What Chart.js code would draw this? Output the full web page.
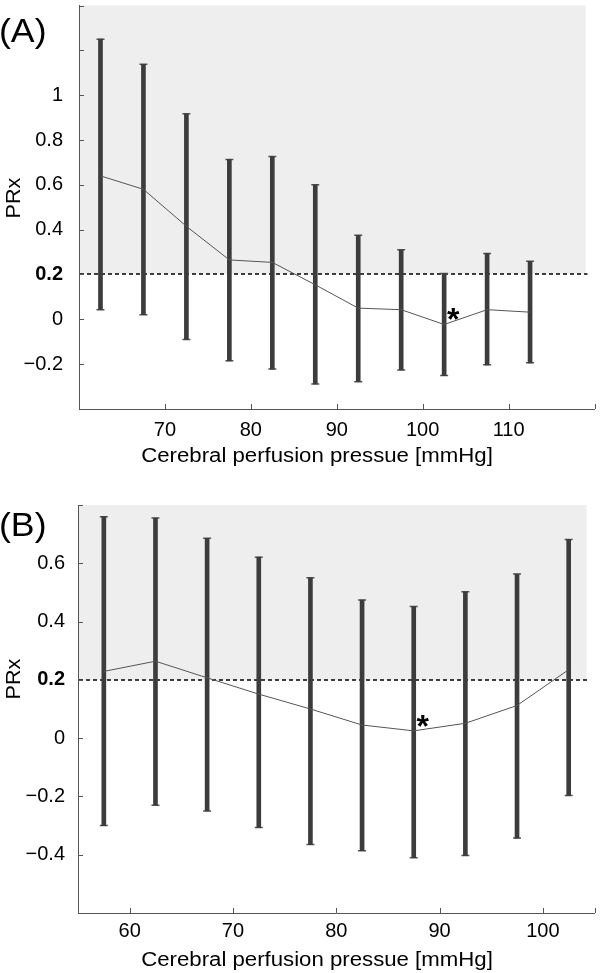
<!DOCTYPE html>
<html><head><meta charset="utf-8">
<script src="https://cdn.jsdelivr.net/npm/chart.js@4/dist/chart.umd.min.js"></script>
<style>
html,body{margin:0;padding:0;background:#fff;width:600px;height:973px;overflow:hidden}
canvas{position:absolute;left:0}
#ca{top:0}#cb{top:486px}
</style></head>
<body>
<canvas id="ca" width="600" height="486"></canvas>
<canvas id="cb" width="600" height="487"></canvas>
<script>
const xTitle = 'Cerebral perfusion pressue [mmHg]';
const yTitle = 'PRx';
const threshold = 0.2;

// Panel A
const cppA   = [62.5, 67.5, 72.5, 77.5, 82.5, 87.5, 92.5, 97.5, 102.5, 107.5, 112.5];
const meanA  = [0.64, 0.58, 0.415, 0.265, 0.254, 0.154, 0.05, 0.043, -0.023, 0.043, 0.032];
const upperA = [1.25, 1.138, 0.917, 0.713, 0.726, 0.60, 0.375, 0.31, 0.204, 0.294, 0.259];
const lowerA = [0.043, 0.021, -0.09, -0.185, -0.222, -0.288, -0.278, -0.226, -0.251, -0.203, -0.194];
const starA  = 102.5;
const xTicksA  = [60, 70, 80, 90, 100, 110, 120];
const xLabelsA = [70, 80, 90, 100, 110];
const yTicksA  = [-0.4, -0.2, 0, 0.2, 0.4, 0.6, 0.8, 1, 1.2, 1.4];
const yLabelsA = [-0.2, 0, 0.2, 0.4, 0.6, 0.8, 1];

// Panel B
const cppB   = [57.5, 62.5, 67.5, 72.5, 77.5, 82.5, 87.5, 92.5, 97.5, 102.5];
const meanB  = [0.229, 0.264, 0.207, 0.151, 0.10, 0.045, 0.025, 0.051, 0.112, 0.235];
const upperB = [0.76, 0.755, 0.686, 0.621, 0.55, 0.474, 0.452, 0.502, 0.563, 0.682];
const lowerB = [-0.30, -0.23, -0.25, -0.307, -0.365, -0.386, -0.41, -0.403, -0.343, -0.197];
const starB  = 87.5;
const xTicksB  = [55, 60, 70, 80, 90, 100, 105];
const xLabelsB = [60, 70, 80, 90, 100];
const yTicksB  = [-0.6, -0.4, -0.2, 0, 0.2, 0.4, 0.6, 0.8];
const yLabelsB = [-0.4, -0.2, 0, 0.2, 0.4, 0.6];

const FONT = '"Liberation Sans", Arial, Helvetica, sans-serif';
Chart.defaults.font.family = FONT;
Chart.defaults.color = '#000';

function fmt(v){
  const r = Math.round(v*10)/10;
  if (r === 0) return '0';
  return (r < 0 ? '\u2212' : '') + String(Math.abs(r));
}
function has(list, v){ return list.some(l => Math.abs(l - v) < 1e-6); }

function wideText(ctx, text, x, y, sx){
  ctx.save();
  ctx.translate(x, y);
  ctx.scale(sx, 1);
  ctx.fillText(text, 0, 0);
  ctx.restore();
}

const deco = {
  id: 'deco',
  beforeDatasetsDraw(chart, args, o){
    const {ctx, chartArea: a, scales: {y}} = chart;
    const yt = Math.round(y.getPixelForValue(o.threshold));
    ctx.save();
    ctx.fillStyle = '#eeeeee';
    ctx.fillRect(a.left + 1, a.top, a.right - o.inset - a.left - 1, yt - a.top);
    ctx.strokeStyle = '#000';
    ctx.lineWidth = 1.6;
    ctx.setLineDash([4, 3]);
    ctx.beginPath();
    ctx.moveTo(a.left + 1, yt);
    ctx.lineTo(a.right - o.inset + 2, yt);
    ctx.stroke();
    ctx.restore();
  },
  afterDraw(chart, args, o){
    const {ctx, chartArea: a, scales: {x, y}} = chart;
    ctx.save();
    ctx.strokeStyle = '#555';
    ctx.lineWidth = 1;
    ctx.beginPath();
    x.ticks.forEach(t => { const p = Math.round(x.getPixelForValue(t.value)) + 0.5; ctx.moveTo(p, a.bottom); ctx.lineTo(p, a.bottom - 5); });
    y.ticks.forEach(t => { const p = Math.round(y.getPixelForValue(t.value)) + 0.5; ctx.moveTo(a.left, p); ctx.lineTo(a.left + 5, p); });
    ctx.stroke();
    ctx.fillStyle = '#000';
    ctx.font = '20px ' + FONT;
    ctx.textAlign = 'center';
    ctx.textBaseline = 'alphabetic';
    wideText(ctx, xTitle, o.xTitleX, a.bottom + 53, 1.11);
    ctx.save();
    ctx.translate(19.5, o.yTitleY);
    ctx.rotate(-Math.PI / 2);
    ctx.scale(1.08, 1);
    ctx.fillText(yTitle, 0, 0);
    ctx.restore();
    ctx.font = '33px ' + FONT;
    ctx.textAlign = 'left';
    wideText(ctx, o.panel, -1, o.panelBaseline, 1.08);
    const i = o.bins.indexOf(o.star);
    const sx = x.getPixelForValue(o.star) + 9;
    const sy = y.getPixelForValue(o.means[i]) - 13;
    ctx.font = 'bold 32px ' + FONT;
    ctx.textAlign = 'center';
    ctx.fillText('*', sx, sy + 19);
    ctx.restore();
  }
};

function makeChart(id, bins, mean, upper, lower, cfg){
  return new Chart(document.getElementById(id), {
    type: 'bar',
    data: {
      datasets: [
        { type: 'line', data: bins.map((x, i) => ({x, y: mean[i]})), borderColor: '#555', borderWidth: 1,
          pointRadius: 0, tension: 0, order: 0 },
        { type: 'bar', data: bins.map((x, i) => ({x, y: [lower[i], upper[i]]})), backgroundColor: '#3c3c3c',
          borderWidth: 0, barThickness: 4, order: 1 },
        { type: 'line', showLine: false,
          data: bins.map((x, i) => ({x, y: upper[i]})).concat(bins.map((x, i) => ({x, y: lower[i]}))),
          pointStyle: 'line', pointRadius: 4, borderColor: '#555', borderWidth: 1.5, order: 2 }
      ]
    },
    options: {
      responsive: false,
      animation: false,
      events: [],
      devicePixelRatio: 1,
      layout: { padding: cfg.padding },
      plugins: {
        legend: { display: false },
        tooltip: { enabled: false },
        deco: cfg.deco
      },
      scales: {
        x: {
          type: 'linear', offset: false, min: cfg.xmin, max: cfg.xmax,
          grid: { display: true, drawOnChartArea: false, drawTicks: false },
          border: { display: true, color: '#555', width: 1 },
          afterBuildTicks: s => { s.ticks = cfg.xTicks.map(v => ({ value: v })); },
          ticks: { autoSkip: false, maxRotation: 0, padding: cfg.xPad, color: '#000',
                   font: { size: 20 },
                   callback: v => has(cfg.xLabels, v) ? String(v) : '' },
          afterFit: s => { s.height = cfg.xH; s.paddingLeft = 0; s.paddingRight = 0; }
        },
        y: {
          type: 'linear', min: cfg.ymin, max: cfg.ymax,
          grid: { display: true, drawOnChartArea: false, drawTicks: false },
          border: { display: true, color: '#555', width: 1 },
          afterBuildTicks: s => { s.ticks = cfg.yTicks.map(v => ({ value: v })); },
          ticks: { autoSkip: false, padding: cfg.yPad, color: '#000',
                   font: ctx => ({ size: 20, weight: (ctx.tick && Math.abs(ctx.tick.value - threshold) < 1e-6) ? 'bold' : 'normal' }),
                   callback: v => has(cfg.yLabels, v) ? fmt(v) : '' },
          afterFit: s => { s.width = cfg.yW; s.paddingTop = 0; s.paddingBottom = 0; }
        }
      }
    },
    plugins: [deco]
  });
}

makeChart('ca', cppA, meanA, upperA, lowerA, {
  padding: { top: 2, right: 3, left: 0, bottom: 0 },
  xmin: 60, xmax: 120, ymin: -0.4, ymax: 1.4, xH: 77, yW: 79, xPad: 9, yPad: 16,
  xTicks: xTicksA, xLabels: xLabelsA, yTicks: yTicksA, yLabels: yLabelsA,
  deco: { threshold, inset: 9, xTitleX: 317, yTitleY: 198, panel: '(A)', panelBaseline: 42,
          bins: cppA, means: meanA, star: starA }
});
makeChart('cb', cppB, meanB, upperB, lowerB, {
  padding: { top: 19, right: 4, left: 0, bottom: 0 },
  xmin: 55, xmax: 105, ymin: -0.6, ymax: 0.8, xH: 60, yW: 78, xPad: 6, yPad: 13,
  xTicks: xTicksB, xLabels: xLabelsB, yTicks: yTicksB, yLabels: yLabelsB,
  deco: { threshold, inset: 8, xTitleX: 317, yTitleY: 193, panel: '(B)', panelBaseline: 50,
          bins: cppB, means: meanB, star: starB }
});
</script>
</body></html>
